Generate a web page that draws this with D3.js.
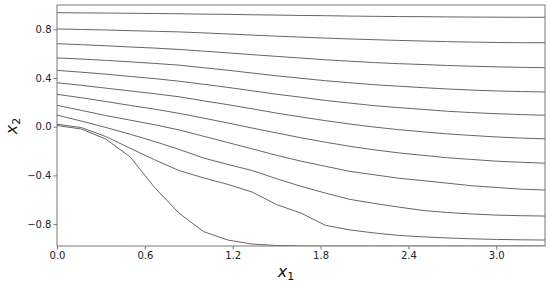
<!DOCTYPE html>
<html>
<head>
<meta charset="utf-8">
<script src="https://cdn.jsdelivr.net/npm/d3@7"></script>
<style>
  html, body { margin: 0; padding: 0; background: #fff; }
  svg { display: block; }
</style>
</head>
<body>
<div id="chart"></div>
<script>
'use strict';

// sample points along x1
const x1Values = [0, 0.167, 0.333, 0.5, 0.667, 0.833, 1.0, 1.167, 1.333, 1.5, 1.667,
                  1.833, 2.0, 2.167, 2.333, 2.5, 2.667, 2.833, 3.0, 3.167, 3.333];

// x2 along each trajectory, top to bottom
const traj1  = [0.937, 0.935, 0.934, 0.932, 0.930, 0.928, 0.925, 0.923, 0.920, 0.917, 0.914,
                0.912, 0.909, 0.907, 0.905, 0.904, 0.902, 0.901, 0.900, 0.899, 0.899];
const traj2  = [0.803, 0.799, 0.795, 0.789, 0.784, 0.779, 0.771, 0.762, 0.753, 0.744, 0.736,
                0.728, 0.721, 0.715, 0.709, 0.704, 0.699, 0.695, 0.692, 0.690, 0.690];
const traj3  = [0.682, 0.674, 0.665, 0.655, 0.646, 0.635, 0.621, 0.607, 0.592, 0.578, 0.564,
                0.550, 0.538, 0.527, 0.518, 0.511, 0.503, 0.497, 0.492, 0.488, 0.485];
const traj4  = [0.565, 0.556, 0.545, 0.533, 0.520, 0.506, 0.485, 0.464, 0.441, 0.418, 0.398,
                0.378, 0.361, 0.345, 0.333, 0.321, 0.310, 0.301, 0.294, 0.289, 0.285];
const traj5  = [0.463, 0.448, 0.432, 0.413, 0.395, 0.374, 0.349, 0.323, 0.295, 0.267, 0.242,
                0.216, 0.194, 0.173, 0.157, 0.142, 0.127, 0.116, 0.107, 0.100, 0.094];
const traj6  = [0.361, 0.340, 0.317, 0.294, 0.271, 0.246, 0.213, 0.181, 0.147, 0.112, 0.080,
                0.050, 0.022, -0.003, -0.024, -0.042, -0.059, -0.072, -0.084, -0.093, -0.100];
const traj7  = [0.266, 0.238, 0.207, 0.175, 0.144, 0.110, 0.071, 0.031, -0.011, -0.051, -0.091,
                -0.127, -0.161, -0.190, -0.215, -0.235, -0.255, -0.269, -0.283, -0.292, -0.300];
const traj8  = [0.176, 0.134, 0.092, 0.054, 0.016, -0.026, -0.078, -0.130, -0.182, -0.235, -0.283,
                -0.325, -0.367, -0.395, -0.423, -0.443, -0.464, -0.485, -0.499, -0.513, -0.520];
const traj9  = [0.096, 0.046, -0.006, -0.062, -0.122, -0.186, -0.257, -0.310, -0.360, -0.427, -0.490,
                -0.545, -0.597, -0.630, -0.660, -0.688, -0.705, -0.717, -0.726, -0.731, -0.734];
const traj10 = [0.020, -0.007, -0.081, -0.177, -0.272, -0.360, -0.420, -0.474, -0.537, -0.640, -0.710,
                -0.810, -0.848, -0.873, -0.893, -0.905, -0.914, -0.921, -0.926, -0.929, -0.931];
const traj11 = [0.010, -0.019, -0.101, -0.249, -0.500, -0.710, -0.861, -0.931, -0.964, -0.976, -0.980,
                -0.980, -0.980, -0.980, -0.980, -0.980, -0.980, -0.980, -0.980, -0.980, -0.980];

const trajectories = [traj1, traj2, traj3, traj4, traj5, traj6, traj7, traj8, traj9, traj10, traj11];

const xTicks = [0, 0.6, 1.2, 1.8, 2.4, 3.0];
const yTicks = [-0.8, -0.4, 0, 0.4, 0.8];

const W = 550, H = 283;
const margin = { left: 57, right: 5, top: 5, bottom: 37 };

const svg = d3.select("#chart")
    .append("svg")
    .attr("width", W)
    .attr("height", H);

const x = d3.scaleLinear()
    .domain([0, 3.333])
    .range([margin.left, W - margin.right]);

const y = d3.scaleLinear()
    .domain([-0.98, 1.0])
    .range([H - margin.bottom, margin.top]);

svg.append("clipPath")
    .attr("id", "plot-clip")
    .append("rect")
    .attr("x", x.range()[0])
    .attr("y", y.range()[1])
    .attr("width", x.range()[1] - x.range()[0])
    .attr("height", y.range()[0] - y.range()[1]);

const line = d3.line()
    .x((d, i) => x(x1Values[i]))
    .y(d => y(d));

svg.append("g")
    .attr("clip-path", "url(#plot-clip)")
    .selectAll("path")
    .data(trajectories)
    .enter()
    .append("path")
    .attr("d", line)
    .attr("fill", "none")
    .attr("stroke", "#666")
    .attr("stroke-width", 1);

// frame
svg.append("rect")
    .attr("x", x.range()[0])
    .attr("y", y.range()[1])
    .attr("width", x.range()[1] - x.range()[0])
    .attr("height", y.range()[0] - y.range()[1])
    .attr("fill", "none")
    .attr("stroke", "#777")
    .attr("stroke-width", 1);

const fmt = d3.format(".1f");

const xAxis = svg.append("g")
    .attr("transform", "translate(0," + y.range()[0] + ")")
    .call(d3.axisBottom(x).tickValues(xTicks).tickFormat(fmt).tickSize(3.5).tickPadding(2));

const yAxis = svg.append("g")
    .attr("transform", "translate(" + x.range()[0] + ",0)")
    .call(d3.axisLeft(y).tickValues(yTicks).tickFormat(fmt).tickSize(3.5).tickPadding(2));

[xAxis, yAxis].forEach(g => {
    g.select(".domain").remove();
    g.selectAll(".tick line").attr("stroke", "#777");
    g.selectAll(".tick text")
        .attr("fill", "#222")
        .attr("font-family", "DejaVu Sans")
        .attr("font-size", 10);
});

// axis titles
const xTitle = svg.append("text")
    .attr("x", 286)
    .attr("y", 277)
    .attr("text-anchor", "middle")
    .attr("font-family", "DejaVu Sans")
    .attr("fill", "#111");
xTitle.append("tspan").attr("font-size", 16).attr("font-style", "italic").text("x");
xTitle.append("tspan").attr("font-size", 11).attr("dy", 3).text("1");

const yTitle = svg.append("text")
    .attr("transform", "translate(17,126) rotate(-90)")
    .attr("text-anchor", "middle")
    .attr("font-family", "DejaVu Sans")
    .attr("fill", "#111");
yTitle.append("tspan").attr("font-size", 16).attr("font-style", "italic").text("x");
yTitle.append("tspan").attr("font-size", 11).attr("dy", 3).text("2");
</script>
</body>
</html>
